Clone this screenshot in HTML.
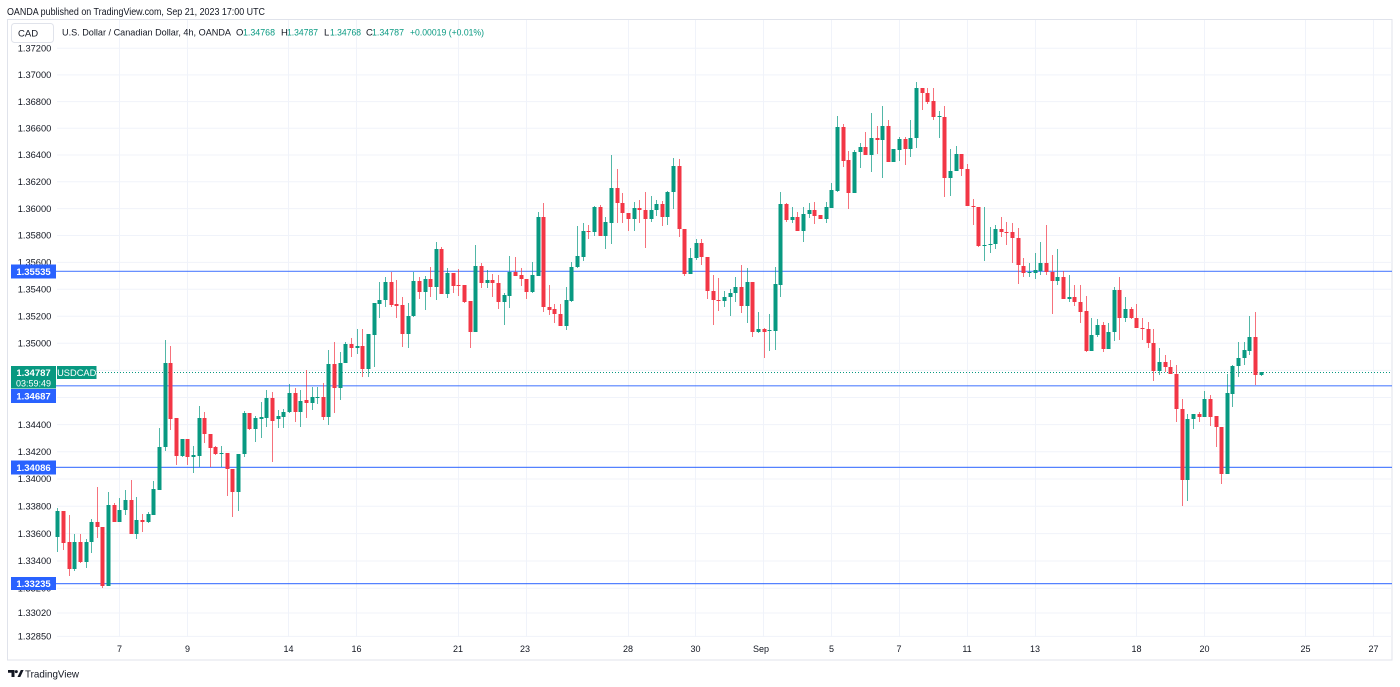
<!DOCTYPE html>
<html><head><meta charset="utf-8"><style>
html,body{margin:0;padding:0;background:#fff;}
svg{display:block;}
text{font-family:"Liberation Sans",sans-serif;}
</style></head><body>
<svg width="1400" height="687" viewBox="0 0 1400 687" xmlns="http://www.w3.org/2000/svg">
<rect width="1400" height="687" fill="#fff"/>
<text x="7" y="15" font-size="10" fill="#131722" textLength="258" lengthAdjust="spacingAndGlyphs">OANDA published on TradingView.com, Sep 21, 2023 17:00 UTC</text>
<rect x="7.5" y="19.5" width="1384.5" height="640.5" fill="none" stroke="#e0e3eb" stroke-width="1"/>
<!-- grid -->
<g stroke="#f0f3fa" stroke-width="1">
<path d="M57 48.3H1392M57 74.9H1392M57 101.6H1392M57 128.3H1392M57 155H1392M57 181.8H1392M57 208.6H1392M57 235.5H1392M57 262.4H1392M57 289.3H1392M57 316.3H1392M57 343.3H1392M57 370.4H1392M57 397.5H1392M57 424.6H1392M57 451.8H1392M57 479H1392M57 506.3H1392M57 533.6H1392M57 561H1392M57 588.3H1392M57 613H1392M57 636.4H1392"/>
<path d="M119.5 20V637M187.5 20V637M288.5 20V637M356.5 20V637M458.5 20V637M526.5 20V637M628.5 20V637M695.5 20V637M763.5 20V637M831.5 20V637M899.5 20V637M967.5 20V637M1035.5 20V637M1136.5 20V637M1204.5 20V637M1305.5 20V637M1373.5 20V637"/>
</g>
<!-- price axis labels -->
<g font-size="9.3" fill="#131722" text-anchor="middle">
<text x="34.5" y="51.5">1.37200</text>
<text x="34.5" y="78.1">1.37000</text>
<text x="34.5" y="104.8">1.36800</text>
<text x="34.5" y="131.5">1.36600</text>
<text x="34.5" y="158.2">1.36400</text>
<text x="34.5" y="185">1.36200</text>
<text x="34.5" y="211.8">1.36000</text>
<text x="34.5" y="238.7">1.35800</text>
<text x="34.5" y="265.6">1.35600</text>
<text x="34.5" y="292.5">1.35400</text>
<text x="34.5" y="319.5">1.35200</text>
<text x="34.5" y="346.5">1.35000</text>
<text x="34.5" y="427.8">1.34400</text>
<text x="34.5" y="455">1.34200</text>
<text x="34.5" y="482.2">1.34000</text>
<text x="34.5" y="509.5">1.33800</text>
<text x="34.5" y="536.8">1.33600</text>
<text x="34.5" y="564.2">1.33400</text>
<text x="34.5" y="591.5">1.33200</text>
<text x="34.5" y="616.2">1.33020</text>
<text x="34.5" y="639.6">1.32850</text>
</g>
<!-- time axis labels -->
<g font-size="9" fill="#131722" text-anchor="middle">
<text x="119.5" y="652">7</text>
<text x="187.5" y="652">9</text>
<text x="288.5" y="652">14</text>
<text x="356.5" y="652">16</text>
<text x="458" y="652">21</text>
<text x="525" y="652">23</text>
<text x="628" y="652">28</text>
<text x="695.5" y="652">30</text>
<text x="761" y="652">Sep</text>
<text x="831.5" y="652">5</text>
<text x="899" y="652">7</text>
<text x="967" y="652">11</text>
<text x="1035" y="652">13</text>
<text x="1136.5" y="652">18</text>
<text x="1204.5" y="652">20</text>
<text x="1305.5" y="652">25</text>
<text x="1373.5" y="652">27</text>
</g>
<!-- horizontal lines -->
<g stroke="#2962ff" stroke-width="1.2" stroke-opacity="0.8">
<path d="M56 271.3H1392M56 385.8H1392M56 467.4H1392M56 583.6H1392"/>
</g>
<path d="M96 372.5H1392" stroke="#089981" stroke-width="1" stroke-dasharray="1 2"/>
<!-- green candles -->
<path fill="none" stroke="#089981" stroke-width="1" stroke-opacity="0.7" d="M57.5 508V552M74.5 534V571M86.5 539V568M91.5 519V553M108.5 492V586M119.5 498V522M125.5 490V515M136.5 497V539M148.5 512V523M153.5 481V515M159.5 428V490M165.5 340V451M182.5 439V457M193.5 446V473M199.5 406V467M221.5 446V467M238.5 454V511M244.5 411V457M255.5 416V442M261.5 402V438M266.5 390V427M278.5 410V428M283.5 409V428M289.5 384V413M300.5 390V427M312.5 387V410M317.5 387V404M328.5 350V425M340.5 352V400M345.5 342V363M357.5 329V354M368.5 334V377M374.5 303V367M379.5 282V318M385.5 277V307M408.5 303V348M413.5 272V317M425.5 276V310M436.5 242V300M447.5 268V298M475.5 245V332M487.5 270V288M504.5 293V325M509.5 256V308M532.5 262V293M538.5 212V276M566.5 287V330M571.5 262V302M577.5 226V268M583.5 223V261M594.5 206V236M605.5 217V249M611.5 155V244M634.5 202V231M651.5 196V222M656.5 200V216M667.5 191V225M673.5 158V209M690.5 248V274M696.5 239V260M724.5 291V307M730.5 289V316M735.5 277V302M747.5 268V323M758.5 312V333M769.5 314V351M775.5 267V350M780.5 192V297M792.5 207V223M803.5 207V242M809.5 203V218M826.5 202V223M831.5 183V208M837.5 116V192M854.5 150V193M860.5 143V168M871.5 113V172M882.5 106V178M893.5 149V162M899.5 137V161M910.5 120V157M916.5 82V148M939.5 111V138M950.5 149V196M956.5 146V171M984.5 207V261M990.5 227V253M995.5 225V249M1029.5 263V277M1035.5 253V279M1040.5 242V275M1057.5 249V285M1069.5 275V302M1091.5 318V351M1097.5 319V337M1108.5 323V349M1114.5 287V341M1125.5 297V322M1159.5 348V375M1187.5 414V501M1193.5 414V429M1204.5 391V417M1227.5 374V474M1232.5 365V407M1238.5 342V377M1244.5 342V365M1249.5 316V355M1261.5 372V376"/>
<path fill="#089981" transform="translate(0.5,0)" d="M55 511h4v26h-4zM72 542h4v27h-4zM84 542h4v20h-4zM89 522h4v20h-4zM106 505h4v81h-4zM117 510h4v12h-4zM123 500h4v10h-4zM134 520h4v14h-4zM146 514h4v8h-4zM151 489h4v26h-4zM157 447h4v43h-4zM163 363h4v84h-4zM180 439h4v17h-4zM191 455h4v2h-4zM197 418h4v38h-4zM219 453h4v1h-4zM236 454h4v38h-4zM242 413h4v41h-4zM253 418h4v11h-4zM259 417h4v2h-4zM264 398h4v20h-4zM276 416h4v3h-4zM281 412h4v5h-4zM287 393h4v19h-4zM298 401h4v11h-4zM310 397h4v6h-4zM315 397h4v1h-4zM326 364h4v53h-4zM338 363h4v25h-4zM343 344h4v19h-4zM355 346h4v2h-4zM366 334h4v35h-4zM372 303h4v32h-4zM377 300h4v4h-4zM383 282h4v18h-4zM406 316h4v18h-4zM411 281h4v35h-4zM423 279h4v13h-4zM434 249h4v38h-4zM445 273h4v21h-4zM473 266h4v66h-4zM485 280h4v3h-4zM502 295h4v7h-4zM507 272h4v24h-4zM530 275h4v17h-4zM536 217h4v59h-4zM564 300h4v26h-4zM569 267h4v34h-4zM575 256h4v11h-4zM581 231h4v26h-4zM592 207h4v25h-4zM603 222h4v14h-4zM609 188h4v35h-4zM632 208h4v11h-4zM649 210h4v9h-4zM654 204h4v6h-4zM665 192h4v25h-4zM671 166h4v26h-4zM688 258h4v16h-4zM694 243h4v15h-4zM722 297h4v4h-4zM728 293h4v4h-4zM733 287h4v6h-4zM745 282h4v24h-4zM756 329h4v3h-4zM767 330h4v1h-4zM773 284h4v47h-4zM778 204h4v81h-4zM790 217h4v3h-4zM801 214h4v17h-4zM807 210h4v4h-4zM824 207h4v12h-4zM829 190h4v18h-4zM835 127h4v64h-4zM852 152h4v41h-4zM858 147h4v5h-4zM869 138h4v17h-4zM880 126h4v14h-4zM891 149h4v13h-4zM897 139h4v11h-4zM908 138h4v11h-4zM914 88h4v50h-4zM937 116h4v1h-4zM948 171h4v7h-4zM954 154h4v17h-4zM982 245h4v1h-4zM988 244h4v1h-4zM993 229h4v15h-4zM1027 272h4v1h-4zM1033 270h4v3h-4zM1038 263h4v8h-4zM1055 277h4v4h-4zM1067 297h4v2h-4zM1089 335h4v16h-4zM1095 325h4v10h-4zM1106 332h4v17h-4zM1112 290h4v42h-4zM1123 309h4v9h-4zM1157 362h4v9h-4zM1185 419h4v61h-4zM1191 414h4v5h-4zM1202 399h4v18h-4zM1225 393h4v81h-4zM1230 366h4v28h-4zM1236 358h4v8h-4zM1242 350h4v8h-4zM1247 337h4v14h-4zM1259 372h4v3h-4z"/>
<!-- red candles -->
<path fill="none" stroke="#f23645" stroke-width="1" stroke-opacity="0.7" d="M63.5 511V550M69.5 515V576M80.5 534V563M97.5 487V538M102.5 527V588M114.5 503V522M131.5 480V534M142.5 514V532M170.5 346V430M176.5 418V465M187.5 439V465M204.5 412V443M210.5 434V467M215.5 446V455M227.5 453V496M232.5 469V517M249.5 413V430M272.5 392V462M295.5 388V422M306.5 370V418M323.5 383V420M334.5 342V413M351.5 338V357M362.5 329V377M391.5 272V307M396.5 280V318M402.5 297V347M419.5 277V299M430.5 267V297M441.5 247V294M453.5 273V293M458.5 269V296M464.5 285V303M470.5 301V348M481.5 263V288M492.5 274V297M498.5 275V309M515.5 257V276M521.5 268V286M526.5 279V299M543.5 203V312M549.5 285V315M554.5 304V323M560.5 304V326M588.5 225V239M600.5 205V236M617.5 169V223M622.5 193V223M628.5 213V231M639.5 200V223M645.5 192V248M662.5 201V226M679.5 159V237M684.5 229V276M701.5 239V265M707.5 257V299M713.5 275V325M718.5 278V311M741.5 265V313M752.5 282V337M764.5 328V358M786.5 203V222M797.5 212V231M814.5 202V224M820.5 215V219M843.5 124V167M848.5 151V209M865.5 132V155M877.5 126V154M888.5 120V162M905.5 137V165M922.5 88V110M927.5 88V104M933.5 88V120M944.5 106V197M961.5 154V176M967.5 164V206M973.5 199V225M978.5 207V247M1001.5 217V237M1006.5 222V245M1012.5 223V263M1018.5 228V284M1023.5 258V277M1046.5 225V275M1052.5 255V314M1063.5 271V299M1074.5 285V306M1080.5 285V323M1086.5 296V352M1103.5 322V352M1119.5 277V340M1131.5 307V319M1136.5 304V328M1142.5 318V340M1148.5 322V348M1153.5 329V381M1165.5 355V372M1170.5 360V374M1176.5 365V422M1182.5 399V506M1199.5 412V422M1210.5 395V426M1216.5 416V447M1221.5 427V484M1255.5 312V385"/>
<path fill="#f23645" transform="translate(0.5,0)" d="M61 511h4v32h-4zM67 542h4v27h-4zM78 542h4v20h-4zM95 522h4v5h-4zM100 527h4v59h-4zM112 505h4v17h-4zM129 500h4v34h-4zM140 520h4v2h-4zM168 363h4v56h-4zM174 418h4v38h-4zM185 439h4v18h-4zM202 418h4v16h-4zM208 434h4v14h-4zM213 447h4v7h-4zM225 453h4v16h-4zM230 469h4v23h-4zM247 413h4v16h-4zM270 398h4v23h-4zM293 393h4v19h-4zM304 400h4v3h-4zM321 397h4v20h-4zM332 364h4v24h-4zM349 344h4v4h-4zM360 346h4v23h-4zM389 282h4v23h-4zM394 304h4v2h-4zM400 305h4v29h-4zM417 281h4v11h-4zM428 279h4v8h-4zM439 249h4v45h-4zM451 273h4v13h-4zM456 285h4v1h-4zM462 285h4v17h-4zM468 301h4v31h-4zM479 266h4v17h-4zM490 280h4v3h-4zM496 283h4v19h-4zM513 272h4v4h-4zM519 275h4v4h-4zM524 279h4v13h-4zM541 217h4v90h-4zM547 307h4v3h-4zM552 309h4v5h-4zM558 314h4v12h-4zM586 231h4v1h-4zM598 207h4v29h-4zM615 188h4v15h-4zM620 203h4v10h-4zM626 213h4v6h-4zM637 208h4v2h-4zM643 210h4v9h-4zM660 204h4v13h-4zM677 166h4v63h-4zM682 229h4v45h-4zM699 243h4v14h-4zM705 257h4v34h-4zM711 291h4v9h-4zM716 300h4v1h-4zM739 287h4v19h-4zM750 282h4v50h-4zM762 329h4v3h-4zM784 204h4v16h-4zM795 217h4v14h-4zM812 210h4v6h-4zM818 215h4v4h-4zM841 127h4v34h-4zM846 160h4v33h-4zM863 147h4v8h-4zM875 138h4v2h-4zM886 126h4v36h-4zM903 139h4v10h-4zM920 88h4v5h-4zM925 93h4v9h-4zM931 101h4v16h-4zM942 117h4v61h-4zM959 154h4v15h-4zM965 169h4v37h-4zM971 206h4v1h-4zM976 207h4v39h-4zM999 229h4v3h-4zM1004 232h4v1h-4zM1010 232h4v6h-4zM1016 238h4v27h-4zM1021 266h4v7h-4zM1044 263h4v9h-4zM1050 272h4v9h-4zM1061 277h4v22h-4zM1072 297h4v5h-4zM1078 302h4v10h-4zM1084 311h4v40h-4zM1101 325h4v24h-4zM1117 290h4v28h-4zM1129 309h4v9h-4zM1134 318h4v10h-4zM1140 328h4v1h-4zM1146 329h4v14h-4zM1151 343h4v28h-4zM1163 362h4v5h-4zM1168 367h4v7h-4zM1174 374h4v35h-4zM1180 409h4v71h-4zM1197 414h4v3h-4zM1208 399h4v18h-4zM1214 416h4v11h-4zM1219 427h4v47h-4zM1253 337h4v38h-4z"/>
<!-- price boxes -->
<g>
<rect x="11" y="264.5" width="45" height="14" fill="#2962ff"/>
<text x="33.5" y="275" font-size="9.5" font-weight="bold" fill="#fff" text-anchor="middle">1.35535</text>
<rect x="11" y="389" width="45" height="14" fill="#2962ff"/>
<text x="33.5" y="399.5" font-size="9.5" font-weight="bold" fill="#fff" text-anchor="middle">1.34687</text>
<rect x="11" y="460.5" width="45" height="14" fill="#2962ff"/>
<text x="33.5" y="471" font-size="9.5" font-weight="bold" fill="#fff" text-anchor="middle">1.34086</text>
<rect x="11" y="577" width="45" height="13" fill="#2962ff"/>
<text x="33.5" y="587" font-size="9.5" font-weight="bold" fill="#fff" text-anchor="middle">1.33235</text>
<rect x="11" y="366" width="45" height="22.5" fill="#089981"/>
<text x="33.5" y="376" font-size="9.5" font-weight="bold" fill="#fff" text-anchor="middle">1.34787</text>
<text x="33.5" y="386.5" font-size="9" fill="#fff" text-anchor="middle">03:59:49</text>
<rect x="57" y="366" width="39.5" height="13" fill="#089981"/>
<text x="76.7" y="376" font-size="9.3" fill="#fff" text-anchor="middle">USDCAD</text>
</g>
<!-- legend -->
<rect x="11.5" y="23.5" width="42" height="19" rx="3" fill="#fff" stroke="#e0e3eb"/>
<text x="18" y="36.5" font-size="9.5" fill="#131722">CAD</text>
<g font-size="9.5">
<text x="62" y="35.5" fill="#131722" textLength="169" lengthAdjust="spacingAndGlyphs">U.S. Dollar / Canadian Dollar, 4h, OANDA</text>
<text x="236" y="35.5" fill="#131722">O</text>
<text x="243" y="35.5" fill="#089981" textLength="32" lengthAdjust="spacingAndGlyphs">1.34768</text>
<text x="281" y="35.5" fill="#131722">H</text>
<text x="287" y="35.5" fill="#089981" textLength="31" lengthAdjust="spacingAndGlyphs">1.34787</text>
<text x="324" y="35.5" fill="#131722">L</text>
<text x="330" y="35.5" fill="#089981" textLength="31" lengthAdjust="spacingAndGlyphs">1.34768</text>
<text x="366" y="35.5" fill="#131722">C</text>
<text x="372" y="35.5" fill="#089981" textLength="32" lengthAdjust="spacingAndGlyphs">1.34787</text>
<text x="410" y="35.5" fill="#089981" textLength="74" lengthAdjust="spacingAndGlyphs">+0.00019 (+0.01%)</text>
</g>
<!-- footer logo -->
<g fill="#131722">
<path d="M8 670h6.5v7h-3v-4.3H8z"/>
<circle cx="16.3" cy="671.6" r="1.5"/>
<path d="M17.5 677L20.8 670h2.8l-3.3 7z"/>
</g>
<text x="25" y="677.5" font-size="10.5" fill="#131722" textLength="54" lengthAdjust="spacingAndGlyphs">TradingView</text>
</svg>
</body></html>
